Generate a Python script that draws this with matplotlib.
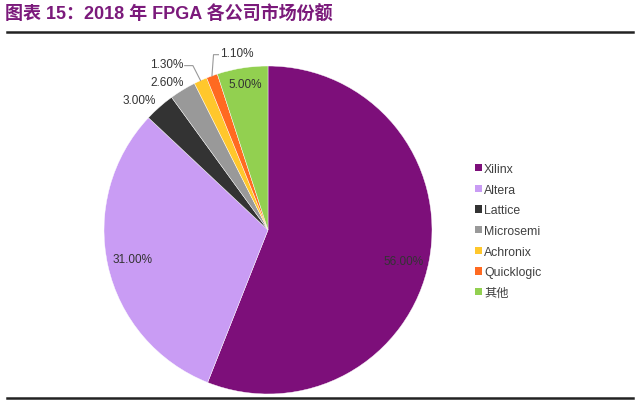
import numpy as np
import matplotlib
matplotlib.use("Agg")
import matplotlib.pyplot as plt
from matplotlib.lines import Line2D
from matplotlib.patches import Patch

# -----------------------------------------------------------------------
# Data
# -----------------------------------------------------------------------
companies = ["Xilinx", "Altera", "Lattice", "Microsemi", "Achronix", "Quicklogic", "其他"]
shares = [56.0, 31.0, 3.0, 2.6, 1.3, 1.1, 5.0]
colors = ["#7D0F7A", "#C99CF4", "#333333", "#999999", "#FFC72C", "#FF6A21", "#92D050"]

TITLE = "图表 15：2018 年 FPGA 各公司市场份额"

# label placement per slice: (radius, angle in degrees) -- layout only
LABEL_POS = [(0.85, -12.8), (0.845, 192.1), (1.115, 134.7), (1.094, 124.4),
             (1.186, 121.4), (1.096, 100.1), (0.901, 99.0)]
LEADER = {4: -1, 5: +1}   # slices with an elbow leader line (side of label)

FONTS = ["Liberation Sans", "Noto Sans CJK SC", "DejaVu Sans"]
plt.rcParams["font.family"] = FONTS

W, H = 640, 402
fig = plt.figure(figsize=(W / 100, H / 100), dpi=100)

cx, cy, R = 268, 231, 164
ax = fig.add_axes([(cx - R) / W, (H - cy - R) / H, 2 * R / W, 2 * R / H])

wedges, _ = ax.pie(shares, colors=colors, startangle=90, counterclock=False,
                   radius=1.0, wedgeprops=dict(edgecolor="white", linewidth=0.3))
ax.set_xlim(-1, 1)
ax.set_ylim(-1, 1)
ax.set_aspect("equal")
ax.axis("off")

for i, (w, v) in enumerate(zip(wedges, shares)):
    r, a = LABEL_POS[i]
    tx, ty = r * np.cos(np.radians(a)), r * np.sin(np.radians(a))
    ax.text(tx, ty, f"{v:.2f}%", ha="center", va="center", fontsize=8.5,
            color="#333333", clip_on=False)
    if i in LEADER:
        mid = np.radians((w.theta1 + w.theta2) / 2)
        sx, sy = np.cos(mid), np.sin(mid)
        half = 0.1   # half text width in axes units
        if LEADER[i] < 0:
            ex, elx = tx + half + 0.01, tx + half + 0.06
        else:
            ex, elx = tx - half - 0.01, tx - half - 0.04
        ax.plot([ex, elx, sx], [ty - 0.01, ty - 0.01, sy], color="#999999",
                lw=0.8, clip_on=False)

handles = [Patch(facecolor=c, edgecolor="none") for c in colors]
fig.legend(handles, companies, loc="upper left",
           bbox_to_anchor=(475 / W, 1 - 164 / H), frameon=False,
           fontsize=8.8, handlelength=0.55, handleheight=0.55, handletextpad=0.2,
           labelspacing=0.71, borderpad=0, borderaxespad=0,
           labelcolor="#404040")

fig.text(5 / W, 1 - 15 / H, TITLE, fontsize=13, fontweight="bold",
         color="#7B1A7B", ha="left", va="center")

fig.add_artist(Line2D([7 / W, 633 / W], [1 - 33 / H, 1 - 33 / H],
                      color="#222222", lw=1.8))
fig.add_artist(Line2D([7 / W, 633 / W], [1 - 399 / H, 1 - 399 / H],
                      color="#222222", lw=1.8))

fig.savefig("out.png", dpi=100, facecolor="white")
